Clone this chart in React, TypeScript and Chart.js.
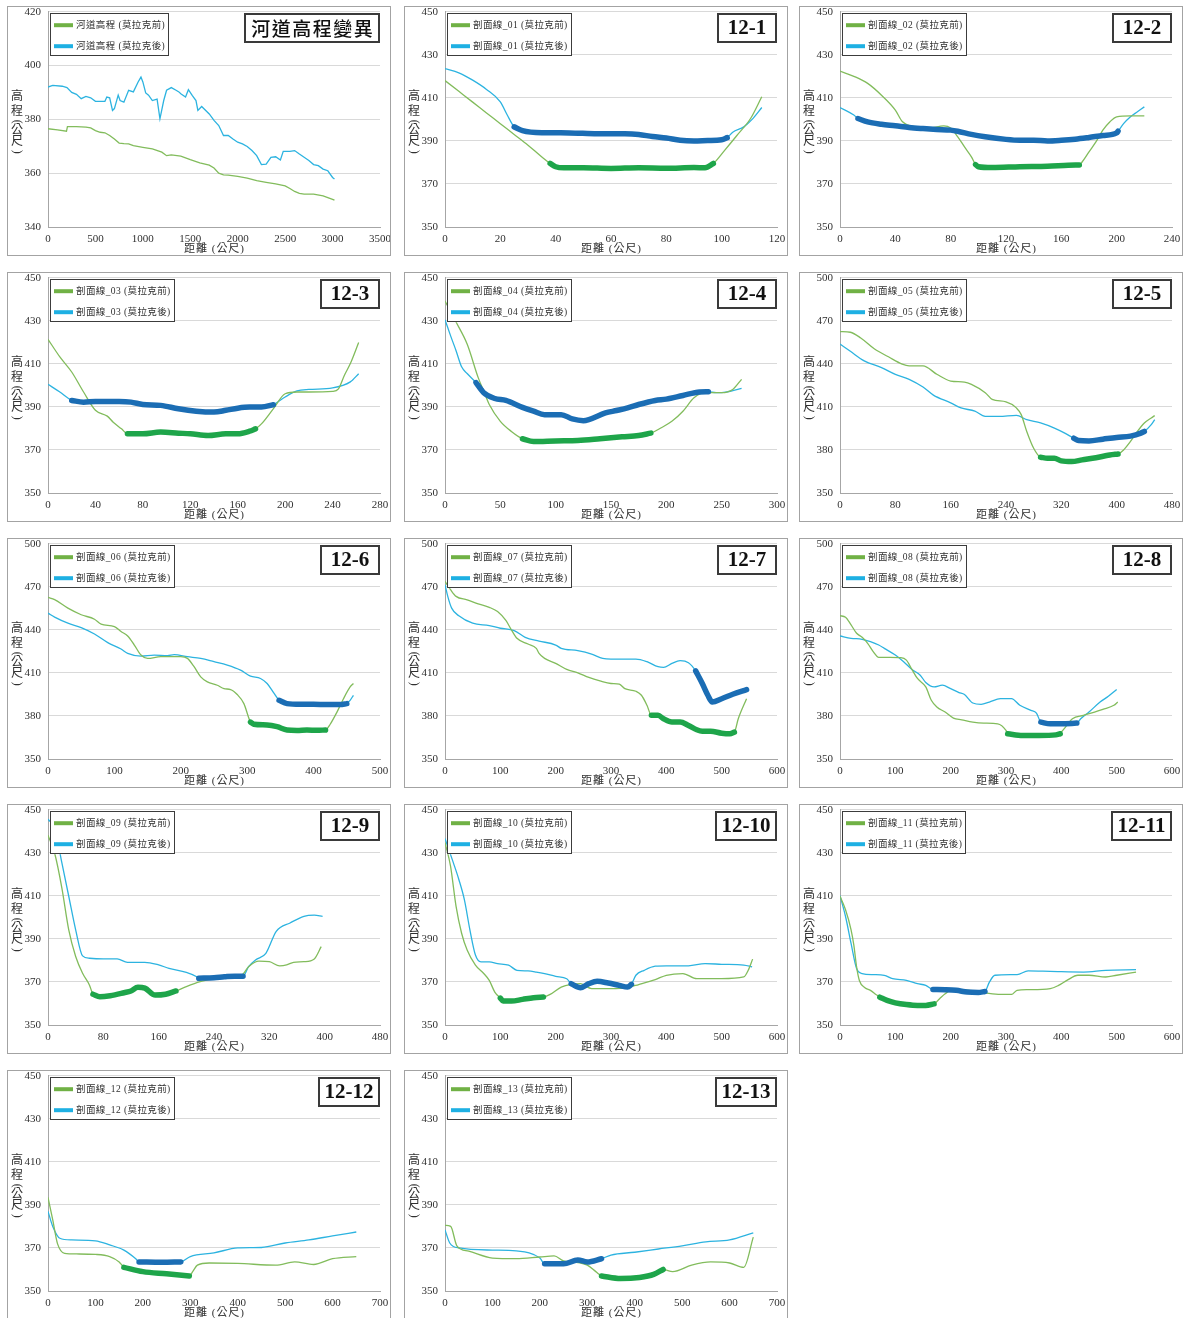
import React, { useEffect, useRef } from 'react';
import { Chart, registerables } from 'chart.js';

Chart.register(...registerables);

type Pt = [number, number];

// ---- River bed profile (distance m, elevation m) ----
const riverBefore: Pt[] = [
  [0, 376.5], [100, 376.1], [195, 375.6], [205, 377.3], [300, 377.3], [400, 377.1], [450, 376.8],
  [500, 375.8], [550, 375.2], [600, 375], [650, 374], [700, 372.7], [750, 371.2], [800, 371],
  [850, 370.9], [900, 370.2], [1000, 369.6], [1100, 369], [1200, 367.8], [1250, 366.5], [1300, 366.8],
  [1400, 366.3], [1500, 365], [1600, 363.8], [1700, 363], [1750, 361.9], [1800, 360], [1850, 359.4],
  [1900, 359.3], [2000, 358.8], [2100, 358.2], [2200, 357.2], [2300, 356.6], [2400, 356], [2500, 355.3],
  [2550, 354.3], [2600, 353.2], [2650, 352.5], [2700, 352.2], [2800, 352.2], [2900, 351.6], [3000, 350.3],
  [3020, 350],
];
const riverAfter: Pt[] = [
  [0, 392], [50, 392.6], [150, 392.3], [200, 391.8], [250, 390], [300, 389.3], [350, 387.7], [400, 388.5],
  [450, 388], [500, 386.7], [600, 386.7], [620, 388.3], [650, 388], [680, 383.3], [700, 384], [740, 389],
  [760, 387], [800, 386.4], [850, 390.8], [900, 390.2], [950, 393.9], [980, 395.7], [1000, 393.9],
  [1030, 389.8], [1060, 389], [1100, 387], [1150, 387.5], [1180, 380.2], [1220, 387], [1250, 390.8],
  [1300, 391.8], [1350, 390.8], [1380, 390.2], [1400, 389.5], [1450, 388.3], [1480, 391], [1520, 388.9],
  [1560, 387], [1580, 383.3], [1620, 384.8], [1700, 382], [1750, 379.6], [1800, 377.7], [1850, 374],
  [1900, 374], [1950, 372.7], [2000, 371.5], [2050, 370.9], [2100, 369.9], [2150, 368.4], [2200, 366.5],
  [2250, 363.2], [2300, 363.4], [2350, 365.9], [2400, 366.1], [2450, 364.9], [2480, 368.1], [2550, 368.1],
  [2600, 368.4], [2650, 367.1], [2700, 365.9], [2750, 364.7], [2800, 363.2], [2850, 362.8], [2900, 361.5],
  [2950, 360.9], [3000, 358.4], [3020, 357.8],
];

// ---- Cross sections 01-13: ground profile before / after, plus main-channel extents ----
const sec01Before: Pt[] = [
  [0, 418], [5, 413], [10, 408], [15, 403], [20, 398], [25, 393], [30, 388], [35, 382.5], [38, 379.5],
  [40, 378], [43, 377.5], [50, 377.5], [60, 377.2], [70, 377.5], [80, 377.3], [90, 377.6], [94, 377.5],
  [97, 379.5], [101, 385.5], [105.5, 392.5], [110.5, 400.5], [114.5, 410.5],
];
const sec01After: Pt[] = [
  [0, 423.6], [5, 421.6], [10, 418.2], [15, 413.9], [20, 408.1], [22.5, 402], [25, 396.5], [28, 394.8],
  [35, 393.8], [45, 393.7], [55, 393.3], [65, 393.3], [70, 393], [75, 392], [80, 391.3], [85, 390.3],
  [90, 390], [95, 390.2], [100, 390.5], [102, 391.5], [104, 394], [108, 396.5], [111, 400], [114.5, 405.5],
];
const chan01Before = [38, 97];
const chan01After = [25, 102];

const sec02Before: Pt[] = [
  [0, 422.4], [10, 420], [20, 416.7], [30, 411.2], [40, 404.3], [45, 399], [55, 396.5], [65, 396], [75, 397],
  [80, 396], [85, 392], [90, 387.2], [95, 382.6], [98, 379], [100, 378], [110, 377.6], [130, 378], [150, 378.2],
  [165, 378.7], [173, 378.8], [175, 380.2], [180, 384.9], [185, 389.5], [190, 395], [195, 398.8], [200, 401.2],
  [210, 401.6], [220, 401.6],
];
const sec02After: Pt[] = [
  [0, 405.5], [10, 402], [13, 400.4], [20, 398.8], [30, 397.7], [40, 397], [50, 396.2], [60, 395.7],
  [70, 395.3], [80, 395], [85, 394.5], [95, 393], [105, 391.9], [120, 390.7], [130, 390.3], [140, 390.3],
  [150, 390], [160, 390.3], [170, 390.8], [180, 391.6], [190, 392.5], [200, 393.7], [201, 394.5], [205, 398],
  [210, 401.2], [215, 403.5], [220, 405.8],
];
const chan02Before = [98, 173];
const chan02After = [13, 201];

const sec03Before: Pt[] = [
  [0, 421.4], [10, 413.2], [20, 406.2], [30, 396.9], [40, 388.4], [50, 385.7], [55, 382.9], [62, 379.8],
  [67, 377.5], [80, 377.5], [95, 378.3], [110, 377.8], [120, 377.5], [135, 376.7], [150, 377.5], [160, 377.5],
  [170, 378.7], [175, 379.8], [180, 382.1], [190, 389.1], [200, 396.1], [210, 396.9], [220, 396.9],
  [240, 397.2], [245, 398.4], [250, 404.7], [255, 410.1], [262, 419.9],
];
const sec03After: Pt[] = [
  [0, 400.5], [10, 396.9], [20, 393], [30, 392.2], [40, 392.5], [60, 392.5], [70, 392.2], [80, 391.1],
  [95, 390.7], [110, 389.1], [125, 388], [140, 387.6], [150, 388.4], [160, 389.4], [170, 389.9], [180, 389.9],
  [190, 391], [200, 394.6], [210, 397.4], [220, 398.1], [240, 398.8], [255, 401.6], [262, 405.4],
];
const chan03Before = [67, 175];
const chan03After = [20, 190];

const sec04Before: Pt[] = [
  [0, 439.2], [10, 429.4], [20, 419.2], [30, 403.6], [35, 397.3], [40, 391.1], [50, 383.3], [60, 378.6],
  [70, 375.2], [80, 373.9], [100, 374.2], [120, 374.4], [140, 375.2], [160, 376.1], [175, 376.7], [186, 377.8],
  [195, 380.2], [205, 383.3], [215, 388], [225, 394.2], [235, 396.6], [250, 396.6], [260, 398.1], [268, 402.8],
];
const sec04After: Pt[] = [
  [0, 430.5], [5, 423.1], [10, 416.1], [15, 408.6], [20, 405.5], [28, 401.3], [35, 396.6], [45, 393.9],
  [55, 393], [70, 389.8], [80, 388], [90, 386.4], [105, 386.4], [115, 384.4], [125, 383.6], [130, 384.1],
  [145, 387.2], [155, 388.3], [165, 389.5], [175, 391.1], [190, 393], [200, 393.6], [215, 395.3], [230, 396.9],
  [238, 397], [245, 396.6], [255, 397], [268, 398.6],
];
const chan04Before = [70, 186];
const chan04After = [28, 238];

const sec05Before: Pt[] = [
  [0, 462.5], [15, 462], [30, 458], [50, 450.3], [70, 444.9], [90, 439.8], [100, 438.6], [120, 438.6],
  [140, 432.7], [160, 428], [180, 427.3], [190, 425.7], [210, 419.9], [220, 415.2], [240, 413.5], [255, 409.3],
  [262, 404.6], [270, 392.9], [280, 381.2], [290, 374.9], [300, 374.2], [310, 374.2], [320, 372.4], [335, 371.9],
  [350, 373.1], [370, 374.6], [390, 376.5], [402, 377.2], [410, 380], [420, 385.9], [430, 392.9], [440, 398.8],
  [450, 402.3], [455, 403.9],
];
const sec05After: Pt[] = [
  [0, 453.8], [15, 448.7], [35, 442.1], [60, 437.4], [80, 432.7], [100, 429.2], [120, 423.8], [135, 418.2],
  [160, 412.8], [175, 409.3], [195, 407], [210, 403.4], [230, 403.4], [255, 404.1], [270, 401.1], [290, 398.8],
  [310, 395.2], [325, 391.7], [338, 388.2], [345, 386.6], [360, 386.3], [380, 387.5], [400, 388.7], [420, 389.6],
  [435, 391.7], [440, 392.9], [450, 397.6], [455, 401.1],
];
const chan05Before = [290, 402];
const chan05After = [338, 440];

const sec06Before: Pt[] = [
  [0, 462.6], [10, 461], [30, 455.1], [50, 450.5], [70, 447.4], [80, 443.9], [100, 442.3], [110, 438.8],
  [120, 435.7], [130, 429.4], [140, 422.4], [150, 420.1], [170, 421.3], [200, 421.3], [210, 420.1], [220, 414.3],
  [230, 407.2], [240, 403.7], [255, 401.4], [265, 399], [275, 398.4], [285, 394.9], [295, 388.6], [305, 375.7],
  [310, 374.2], [330, 373.7], [345, 372.5], [360, 370.2], [375, 369.9], [390, 370.2], [405, 370], [418, 370.2],
  [425, 374.2], [435, 382.5], [445, 392], [455, 400.2], [460, 402.6],
];
const sec06After: Pt[] = [
  [0, 451.6], [10, 448.8], [30, 444.6], [50, 441.6], [70, 437.1], [90, 431.1], [110, 426.6], [120, 423.6],
  [140, 421.7], [160, 422.4], [180, 422], [190, 422.7], [210, 421.3], [230, 420.1], [250, 417.8], [270, 415.4],
  [290, 411.9], [305, 407.7], [320, 406.1], [330, 402.6], [340, 396], [348, 390.9], [360, 388.6], [380, 388.1],
  [400, 388.1], [420, 387.9], [440, 387.9], [450, 388.6], [455, 390.9], [460, 394.4],
];
const chan06Before = [305, 418];
const chan06After = [348, 450];

const sec07Before: Pt[] = [
  [0, 473.8], [10, 468], [20, 463.3], [40, 460.9], [60, 458.1], [80, 455.7], [95, 452.7], [110, 446.5],
  [120, 440], [130, 434.1], [150, 430.1], [165, 427.1], [170, 423.6], [180, 420.1], [200, 416.6], [220, 412.4],
  [240, 410], [260, 406.8], [280, 404.4], [300, 402.6], [315, 402.1], [325, 399], [345, 397.2], [355, 394.4],
  [365, 387.4], [373, 380.4], [385, 380.4], [395, 378], [410, 375.7], [425, 375.7], [440, 373.4], [455, 370.4],
  [465, 369.4], [480, 369.4], [500, 368], [515, 367.6], [523, 368.7], [530, 378], [545, 392],
];
const sec07After: Pt[] = [
  [0, 471.5], [5, 463.3], [12, 455.1], [25, 449.8], [50, 444.6], [80, 443], [100, 441.1], [125, 439.5],
  [145, 434.8], [170, 432.2], [200, 429.4], [210, 427.1], [240, 425.5], [265, 423.1], [285, 420.1], [300, 419.6],
  [345, 419.6], [365, 417.8], [385, 414.3], [395, 413.8], [410, 416.6], [425, 418.5], [440, 417.1], [453, 411.4],
  [465, 402.6], [475, 394.4], [483, 389.7], [500, 392], [520, 395.1], [545, 398.4],
];
const chan07Before = [373, 523];
const chan07After = [453, 545];

const sec08Before: Pt[] = [
  [0, 449.8], [10, 448.8], [20, 443.5], [30, 437.6], [40, 434.8], [50, 430.6], [60, 424.8], [70, 420.8],
  [90, 420.8], [110, 420.6], [120, 418.9], [130, 412.4], [140, 406.1], [155, 400.2], [165, 390.9], [175, 386.2],
  [190, 382.7], [205, 378.5], [220, 377.3], [240, 375.7], [260, 375], [285, 374.5], [300, 369.9], [303, 367.6],
  [330, 366.4], [360, 366.4], [390, 366.8], [398, 367.6], [400, 368.7], [410, 373.4], [420, 378], [440, 380.4],
  [460, 382.7], [475, 384.6], [495, 387.4], [502, 389.7],
];
const sec08After: Pt[] = [
  [0, 435.7], [20, 434.1], [40, 433.4], [55, 431.8], [70, 429.4], [80, 427.1], [100, 422.4], [115, 417.8],
  [130, 412.4], [145, 408.4], [155, 403.3], [170, 400.2], [185, 401.4], [200, 399], [215, 396.3], [225, 394.9],
  [240, 389], [255, 388.1], [270, 389.7], [290, 392], [310, 392], [325, 387.4], [345, 383.9], [355, 382],
  [363, 375.7], [380, 374.5], [400, 374.5], [428, 375], [435, 378], [450, 382.7], [470, 389.7], [485, 393.7],
  [500, 398.4],
];
const chan08Before = [303, 398];
const chan08After = [363, 428];

const sec09Before: Pt[] = [
  [0, 438.2], [10, 429.3], [20, 413.7], [30, 394.2], [40, 381.8], [50, 374], [60, 368.5], [65, 364.3],
  [75, 363.1], [90, 363.6], [110, 365], [120, 365.8], [130, 367.5], [140, 367.1], [155, 363.9], [170, 364.3],
  [185, 365.8], [200, 367.8], [220, 370.1], [240, 371.7], [260, 372.4], [280, 373.2], [290, 377.1], [305, 379.7],
  [320, 379.4], [335, 377.5], [345, 377.9], [355, 379.1], [370, 379.4], [385, 380.7], [395, 386.4],
];
const sec09After: Pt[] = [
  [0, 445.6], [10, 441], [20, 425.4], [30, 409.8], [40, 394.2], [50, 382.1], [60, 381], [80, 380.7],
  [100, 380.7], [115, 379.1], [140, 379.1], [160, 377.9], [175, 376.3], [200, 374.4], [215, 372.4], [218, 371.7],
  [240, 372], [255, 372.4], [270, 372.7], [282, 372.7], [290, 377.1], [300, 380.2], [315, 383.3], [330, 393.5],
  [350, 397.4], [370, 400.5], [385, 401], [397, 400.5],
];
const chan09Before = [65, 185];
const chan09After = [218, 282];

const sec10Before: Pt[] = [
  [0, 434.7], [10, 423.8], [20, 405.1], [30, 392.6], [40, 384.8], [55, 377.8], [70, 373.9], [80, 370.7],
  [90, 365.3], [100, 362.5], [105, 361.1], [120, 361.1], [140, 361.9], [160, 362.7], [178, 363], [190, 364.2],
  [210, 367.6], [230, 368.9], [245, 369.2], [265, 366.9], [300, 366.9], [330, 367.4], [350, 368.8], [380, 371.1],
  [400, 373.1], [430, 373.9], [455, 371.5], [500, 371.5], [540, 372.3], [548, 375.4], [556, 380.6],
];
const sec10After: Pt[] = [
  [0, 436.6], [15, 425.4], [25, 417.6], [35, 408.2], [45, 394.2], [55, 382.5], [65, 379.3], [80, 379.3],
  [95, 378.5], [115, 377.8], [130, 375.4], [150, 375.1], [165, 374.6], [180, 373.9], [200, 372.6], [220, 371.5],
  [228, 369.2], [245, 367.3], [260, 369.2], [275, 370.3], [295, 369.5], [315, 368.4], [330, 367.6], [337, 368.9],
  [345, 373.1], [360, 375.4], [380, 377.3], [400, 377.5], [440, 377.5], [470, 378.5], [500, 378.2], [540, 377.8],
  [555, 377],
];
const chan10Before = [100, 178];
const chan10After = [228, 337];

const sec11Before: Pt[] = [
  [0, 409.8], [10, 403.5], [20, 394.2], [25, 387.1], [30, 377], [35, 370.7], [45, 367.3], [55, 366.1],
  [65, 364.2], [72, 362.9], [85, 361.4], [100, 360.3], [120, 359.5], [140, 359.1], [155, 359.1], [170, 359.8],
  [180, 362.2], [190, 364.5], [200, 366.1], [215, 366.4], [240, 365.8], [265, 364.8], [290, 364.2], [310, 364.2],
  [320, 366.1], [340, 366.4], [380, 366.9], [395, 368.4], [410, 370.7], [430, 373.1], [450, 373.1], [480, 372.3],
  [500, 373.1], [535, 374.6],
];
const sec11After: Pt[] = [
  [0, 410.1], [10, 400.4], [20, 387.9], [30, 376.2], [40, 373.9], [60, 373.4], [80, 373.1], [95, 371.5],
  [120, 370.7], [140, 369.2], [155, 368.4], [168, 366.5], [190, 366.4], [210, 366.1], [230, 365.3], [250, 365.1],
  [262, 365.6], [270, 369.9], [280, 373.1], [320, 373.4], [340, 375.1], [380, 374.9], [440, 374.6], [480, 375.4],
  [535, 375.7],
];
const chan11Before = [72, 170];
const chan11After = [168, 262];

const sec12Before: Pt[] = [
  [0, 393.5], [10, 383], [20, 372], [35, 367.5], [60, 367.2], [100, 367], [130, 366], [150, 363.5], [160, 361],
  [200, 359], [250, 358], [298, 357], [305, 359], [315, 362], [340, 363], [400, 362.8], [480, 362], [520, 363.5],
  [560, 362.3], [600, 365], [650, 366],
];
const sec12After: Pt[] = [
  [0, 387], [10, 380], [25, 374.5], [50, 373.7], [100, 373.3], [130, 371.4], [160, 369], [185, 365], [192, 363.5],
  [240, 363.3], [280, 363.5], [300, 366], [350, 367.7], [400, 370], [450, 370.2], [500, 372.3], [550, 373.7],
  [600, 375.6], [650, 377.4],
];
const chan12Before = [160, 298];
const chan12After = [192, 280];

const sec13Before: Pt[] = [
  [0, 380.5], [12, 380], [25, 371], [50, 368.5], [100, 365.3], [150, 365], [200, 365.8], [230, 366.3],
  [250, 364], [270, 363.5], [300, 362], [318, 359], [330, 357], [370, 355.8], [410, 356.3], [440, 357.7],
  [460, 360], [480, 359], [520, 362], [560, 363.5], [600, 363], [630, 361], [650, 375],
];
const sec13After: Pt[] = [
  [0, 378.4], [10, 372.3], [30, 370], [100, 369], [150, 368.6], [200, 365.3], [210, 362.6], [250, 362.6],
  [280, 364.4], [300, 363.5], [330, 365], [350, 366.7], [400, 368], [450, 369.5], [500, 371], [550, 372.8],
  [600, 373.7], [650, 377],
];
const chan13Before = [330, 460];
const chan13After = [210, 330];

// axis ranges: [min, max, step]
const xRiver = [0, 3500, 500];
const yRiver = [340, 420, 20];
const yLow = [350, 450, 20];
const yHigh = [350, 500, 30];

const BEFORE = '莫拉克前';
const AFTER = '莫拉克後';

interface PanelDef {
  title: string;
  series: string;
  before: Pt[];
  after: Pt[];
  chBefore?: number[];
  chAfter?: number[];
  xAxis: number[];
  yAxis: number[];
  smooth: boolean;
}

const PANELS: PanelDef[] = [
  { title: '河道高程變異', series: '河道高程', before: riverBefore, after: riverAfter, xAxis: xRiver, yAxis: yRiver, smooth: false },
  { title: '12-1', series: '剖面線_01', before: sec01Before, after: sec01After, chBefore: chan01Before, chAfter: chan01After, xAxis: [0, 120, 20], yAxis: yLow, smooth: true },
  { title: '12-2', series: '剖面線_02', before: sec02Before, after: sec02After, chBefore: chan02Before, chAfter: chan02After, xAxis: [0, 240, 40], yAxis: yLow, smooth: true },
  { title: '12-3', series: '剖面線_03', before: sec03Before, after: sec03After, chBefore: chan03Before, chAfter: chan03After, xAxis: [0, 280, 40], yAxis: yLow, smooth: true },
  { title: '12-4', series: '剖面線_04', before: sec04Before, after: sec04After, chBefore: chan04Before, chAfter: chan04After, xAxis: [0, 300, 50], yAxis: yLow, smooth: true },
  { title: '12-5', series: '剖面線_05', before: sec05Before, after: sec05After, chBefore: chan05Before, chAfter: chan05After, xAxis: [0, 480, 80], yAxis: yHigh, smooth: true },
  { title: '12-6', series: '剖面線_06', before: sec06Before, after: sec06After, chBefore: chan06Before, chAfter: chan06After, xAxis: [0, 500, 100], yAxis: yHigh, smooth: true },
  { title: '12-7', series: '剖面線_07', before: sec07Before, after: sec07After, chBefore: chan07Before, chAfter: chan07After, xAxis: [0, 600, 100], yAxis: yHigh, smooth: true },
  { title: '12-8', series: '剖面線_08', before: sec08Before, after: sec08After, chBefore: chan08Before, chAfter: chan08After, xAxis: [0, 600, 100], yAxis: yHigh, smooth: true },
  { title: '12-9', series: '剖面線_09', before: sec09Before, after: sec09After, chBefore: chan09Before, chAfter: chan09After, xAxis: [0, 480, 80], yAxis: yLow, smooth: true },
  { title: '12-10', series: '剖面線_10', before: sec10Before, after: sec10After, chBefore: chan10Before, chAfter: chan10After, xAxis: [0, 600, 100], yAxis: yLow, smooth: true },
  { title: '12-11', series: '剖面線_11', before: sec11Before, after: sec11After, chBefore: chan11Before, chAfter: chan11After, xAxis: [0, 600, 100], yAxis: yLow, smooth: true },
  { title: '12-12', series: '剖面線_12', before: sec12Before, after: sec12After, chBefore: chan12Before, chAfter: chan12After, xAxis: [0, 700, 100], yAxis: yLow, smooth: true },
  { title: '12-13', series: '剖面線_13', before: sec13Before, after: sec13After, chBefore: chan13Before, chAfter: chan13After, xAxis: [0, 700, 100], yAxis: yLow, smooth: true },
];

const COLORS = {
  before: '#82bc5c',
  beforeChannel: '#1ea54a',
  after: '#2cb3e0',
  afterChannel: '#1b6db4',
  legendBefore: '#70b145',
  legendAfter: '#1eb0e3',
  text: '#303030',
  grid: '#d9d9d9',
  axis: '#a6a6a6',
};

const SERIF = '"Liberation Serif", "Times New Roman"';
const MIXED = '"Liberation Serif", "Noto Sans CJK TC", "Noto Sans CJK SC"';
const CJK = '"Noto Sans CJK TC", "Noto Sans CJK SC", sans-serif';

const PANEL_W = 384;
const PANEL_H = 250;
const COL_X = [7, 404, 799];
const ROW_Y = [6, 272, 538, 804, 1070];

const toXY = (pts: Pt[]) => pts.map(([x, y]) => ({ x, y }));
const within = (pts: Pt[], r?: number[]) => (r ? pts.filter(([x]) => x >= r[0] && x <= r[1]) : []);

function makeDecor(cfg: PanelDef) {
  return {
    id: 'panelDecor',
    afterDraw(chart: Chart) {
      const { ctx, chartArea: a } = chart;
      ctx.save();
      ctx.textBaseline = 'middle';
      ctx.textAlign = 'center';
      ctx.fillStyle = COLORS.text;

      // vertical y-axis title
      ctx.font = `12px ${MIXED}`;
      const midY = (a.top + a.bottom) / 2;
      const yTitle: [string, number, boolean][] = [
        ['高', -22.5, false], ['程', -7.5, false], ['(', 2.5, true],
        ['公', 11, false], ['尺', 22.5, false], [')', 32.5, true],
      ];
      for (const [ch, dy, rot] of yTitle) {
        if (rot) {
          ctx.save();
          ctx.translate(9, midY + dy);
          ctx.rotate(Math.PI / 2);
          ctx.fillText(ch, 0, 0);
          ctx.restore();
        } else {
          ctx.fillText(ch, 9, midY + dy);
        }
      }

      // x-axis title
      ctx.font = `11px ${MIXED}`;
      (ctx as any).letterSpacing = '1px';
      ctx.fillText('距離 (公尺)', (a.left + a.right) / 2 + 0.5, a.bottom + 22.5);
      (ctx as any).letterSpacing = '0px';

      // legend
      ctx.font = `9.5px ${MIXED}`;
      (ctx as any).letterSpacing = '0.4px';
      const labels = [`${cfg.series} (${BEFORE})`, `${cfg.series} (${AFTER})`];
      const textW = Math.max(...labels.map((l) => ctx.measureText(l).width));
      const lx = a.left + 2;
      const ly = a.top + 1.5;
      const lw = Math.round(textW + 30);
      const lh = 43;
      ctx.fillStyle = '#ffffff';
      ctx.fillRect(lx, ly, lw, lh);
      ctx.strokeStyle = '#3c3c3c';
      ctx.lineWidth = 1;
      ctx.strokeRect(Math.round(lx) + 0.5, Math.round(ly) + 0.5, lw - 1, lh - 1);
      const rows: [string, string, number][] = [
        [labels[0], COLORS.legendBefore, 12],
        [labels[1], COLORS.legendAfter, 33],
      ];
      ctx.textAlign = 'left';
      for (const [label, color, dy] of rows) {
        ctx.strokeStyle = color;
        ctx.lineWidth = 4;
        ctx.beginPath();
        ctx.moveTo(lx + 4, ly + dy);
        ctx.lineTo(lx + 23, ly + dy);
        ctx.stroke();
        ctx.fillStyle = COLORS.text;
        ctx.fillText(label, lx + 26, ly + dy + 0.5);
      }
      (ctx as any).letterSpacing = '0px';

      // title box
      const isCjk = /[\u4e00-\u9fff]/.test(cfg.title);
      if (isCjk) {
        ctx.font = `500 19px ${CJK}`;
        (ctx as any).letterSpacing = '1.5px';
      } else {
        ctx.font = `bold 21px ${SERIF}`;
      }
      const tw = ctx.measureText(cfg.title).width;
      const bw = Math.max(60, Math.round(tw + 13));
      const bh = 30;
      const bx = Math.round(a.right - bw);
      const by = Math.round(a.top + 1.5);
      ctx.fillStyle = '#ffffff';
      ctx.fillRect(bx, by, bw, bh);
      ctx.strokeStyle = '#3a3a3a';
      ctx.lineWidth = 2;
      ctx.strokeRect(bx + 1, by + 1, bw - 2, bh - 2);
      ctx.fillStyle = '#111111';
      ctx.textAlign = 'center';
      ctx.fillText(cfg.title, bx + bw / 2 + (isCjk ? 0.75 : 0), by + bh / 2 + 1, bw - 6);
      (ctx as any).letterSpacing = '0px';
      ctx.restore();
    },
  };
}

function Panel({ cfg, left, top }: { cfg: PanelDef; left: number; top: number }) {
  const ref = useRef<HTMLCanvasElement>(null);

  useEffect(() => {
    if (!ref.current) return;
    const interp = cfg.smooth ? { cubicInterpolationMode: 'monotone' as const } : { tension: 0 };
    const thick = { borderWidth: 5.5, borderCapStyle: 'round' as const, borderJoinStyle: 'round' as const, pointRadius: 0, order: 0, ...interp };
    const thin = { borderWidth: 1.3, pointRadius: 0, order: 1, ...interp };
    const tickFont = { family: SERIF, size: 11, lineHeight: 1 };
    const chart = new Chart(ref.current, {
      type: 'line',
      data: {
        datasets: [
          { label: `${cfg.series} (${BEFORE})`, data: toXY(within(cfg.before, cfg.chBefore)), borderColor: COLORS.beforeChannel, ...thick },
          { label: `${cfg.series} (${AFTER})`, data: toXY(within(cfg.after, cfg.chAfter)), borderColor: COLORS.afterChannel, ...thick },
          { label: `${cfg.series} (${BEFORE})`, data: toXY(cfg.before), borderColor: COLORS.before, ...thin },
          { label: `${cfg.series} (${AFTER})`, data: toXY(cfg.after), borderColor: COLORS.after, ...thin },
        ],
      },
      options: {
        animation: false,
        responsive: false,
        maintainAspectRatio: false,
        events: [],
        layout: { padding: { top: 4.7, right: 10, bottom: 0, left: 0 } },
        plugins: { legend: { display: false }, tooltip: { enabled: false } },
        scales: {
          x: {
            type: 'linear',
            min: cfg.xAxis[0],
            max: cfg.xAxis[1],
            grid: { display: false, drawTicks: true, tickLength: 7 },
            border: { display: true, color: COLORS.axis, width: 1 },
            ticks: {
              stepSize: cfg.xAxis[2], padding: 0, color: COLORS.text, font: tickFont,
              maxRotation: 0, autoSkip: false, callback: (v: any) => String(v),
            },
            afterFit: (s: any) => { s.height = 28; s.paddingLeft = 0; s.paddingRight = 0; },
          },
          y: {
            type: 'linear',
            min: cfg.yAxis[0],
            max: cfg.yAxis[1],
            grid: { color: COLORS.grid, lineWidth: 1, drawTicks: false },
            border: { display: true, color: COLORS.axis, width: 1 },
            ticks: { stepSize: cfg.yAxis[2], padding: 7, color: COLORS.text, font: tickFont, callback: (v: any) => String(v) },
            afterFit: (s: any) => { s.width = 40; s.paddingTop = 0; s.paddingBottom = 0; },
          },
        },
      },
      plugins: [makeDecor(cfg)],
    });
    return () => chart.destroy();
  }, [cfg]);

  return (
    <div
      style={{
        position: 'absolute',
        left,
        top,
        width: PANEL_W,
        height: PANEL_H,
        boxSizing: 'border-box',
        border: '1px solid #a3a3a3',
        background: '#fff',
      }}
    >
      <canvas ref={ref} width={PANEL_W - 2} height={PANEL_H - 2} style={{ display: 'block' }} />
    </div>
  );
}

export default function App() {
  return (
    <div style={{ position: 'absolute', left: 0, top: 0, width: 1188, height: 1318, background: '#fff', overflow: 'hidden' }}>
      {PANELS.map((cfg, i) => (
        <Panel key={cfg.title} cfg={cfg} left={COL_X[i % 3]} top={ROW_Y[Math.floor(i / 3)]} />
      ))}
    </div>
  );
}
